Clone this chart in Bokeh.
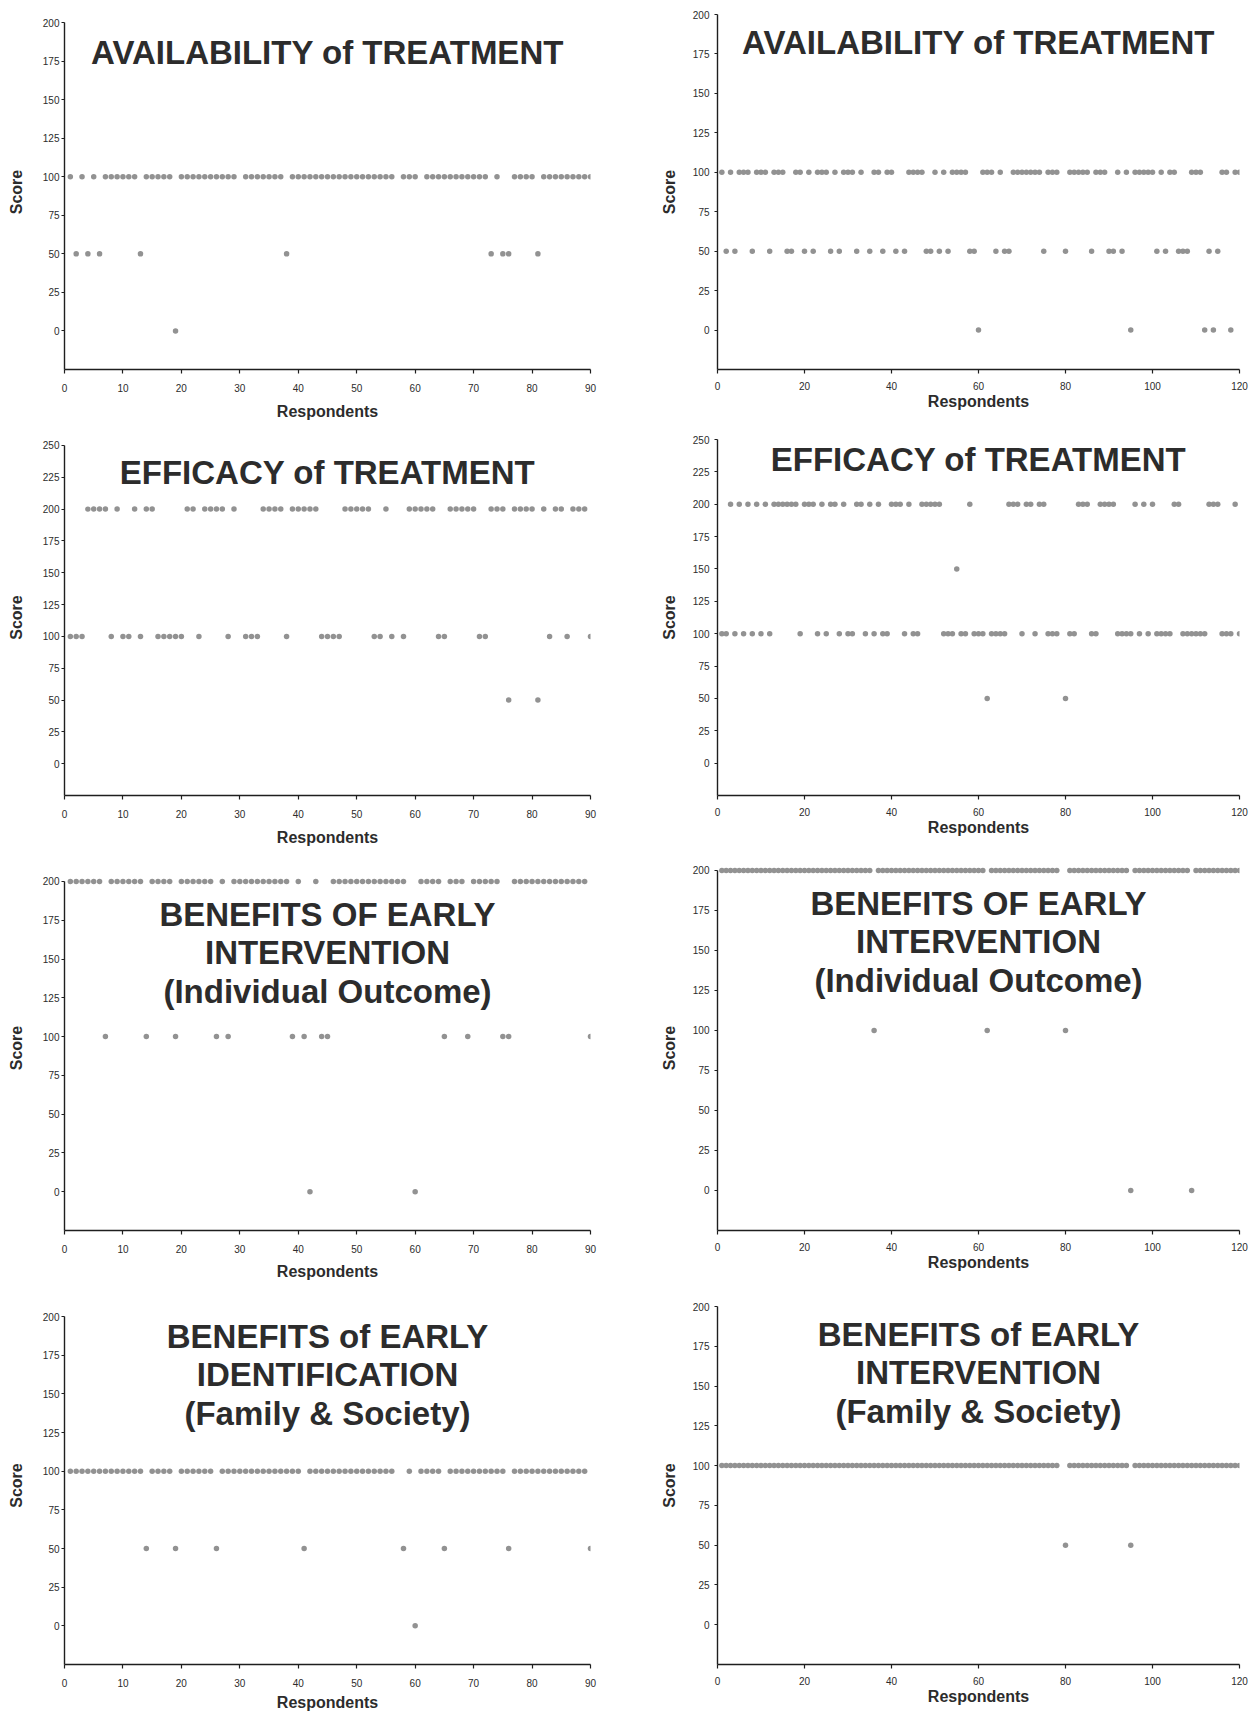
from bokeh.plotting import figure
from bokeh.layouts import column, row
from bokeh.models import FixedTicker, ColumnDataSource, Range1d
from bokeh.embed import file_html
from bokeh.resources import INLINE
from bokeh.core.properties import value

FONT = "Liberation Sans"
N = None

# ---------------- data (score of each respondent, None = no point) ----------------
avail_90 = [100, 50, 100, 50, 100, 50, 100, 100, 100, 100,
            100, 100, 50, 100, 100, 100, 100, 100, 0, 100,
            100, 100, 100, 100, 100, 100, 100, 100, 100, N,
            100, 100, 100, 100, 100, 100, 100, 50, 100, 100,
            100, 100, 100, 100, 100, 100, 100, 100, 100, 100,
            100, 100, 100, 100, 100, 100, N, 100, 100, 100,
            N, 100, 100, 100, 100, 100, 100, 100, 100, 100,
            100, 100, 50, 100, 50, 50, 100, 100, 100, 100,
            50, 100, 100, 100, 100, 100, 100, 100, 100, 100]

avail_120 = [100, 50, 100, 50, 100, 100, 100, 50, 100, 100,
             100, 50, 100, 100, 100, 50, 50, 100, 100, 50,
             100, 50, 100, 100, 100, 50, 100, 50, 100, 100,
             100, 50, 100, N, 50, 100, 100, 50, 100, 100,
             50, N, 50, 100, 100, 100, 100, 50, 50, 100,
             50, 100, 50, 100, 100, 100, 100, 50, 50, 0,
             100, 100, 100, 50, 100, 50, 50, 100, 100, 100,
             100, 100, 100, 100, 50, 100, 100, 100, N, 50,
             100, 100, 100, 100, 100, 50, 100, 100, 100, 50,
             50, 100, 50, 100, 0, 100, 100, 100, 100, 100,
             50, 100, 50, 100, 100, 50, 50, 50, 100, 100,
             100, 0, 50, 0, 50, 100, 100, 0, 100, 100]

eff_90 = [100, 100, 100, 200, 200, 200, 200, 100, 200, 100,
          100, 200, 100, 200, 200, 100, 100, 100, 100, 100,
          200, 200, 100, 200, 200, 200, 200, 100, 200, N,
          100, 100, 100, 200, 200, 200, 200, 100, 200, 200,
          200, 200, 200, 100, 100, 100, 100, 200, 200, 200,
          200, 200, 100, 100, 200, 100, N, 100, 200, 200,
          200, 200, 200, 100, 100, 200, 200, 200, 200, 200,
          100, 100, 200, 200, 200, 50, 200, 200, 200, 200,
          50, 200, 100, 200, 200, 100, 200, 200, 200, 100]

eff_120 = [100, 100, 200, 100, 200, 100, 200, 100, 200, 100,
           200, 100, 200, 200, 200, 200, 200, 200, 100, 200,
           200, 200, 100, 200, 100, 200, 200, 100, 200, 100,
           100, 200, 200, 100, 200, 100, 200, 100, 100, 200,
           200, 200, 100, 200, 100, 100, 200, 200, 200, 200,
           200, 100, 100, 100, 150, 100, 100, 200, 100, 100,
           100, 50, 100, 100, 100, 100, 200, 200, 200, 100,
           200, 200, 100, 200, 200, 100, 100, 100, N, 50,
           100, 100, 200, 200, 200, 100, 100, 200, 200, 200,
           200, 100, 100, 100, 100, 200, 100, 200, 100, 200,
           100, 100, 100, 100, 200, 200, 100, 100, 100, 100,
           100, 100, 200, 200, 200, 100, 100, 100, 200, 100]

indiv_90 = [200, 200, 200, 200, 200, 200, 100, 200, 200, 200,
            200, 200, 200, 100, 200, 200, 200, 200, 100, 200,
            200, 200, 200, 200, 200, 100, 200, 100, 200, 200,
            200, 200, 200, 200, 200, 200, 200, 200, 100, 200,
            100, 0, 200, 100, 100, 200, 200, 200, 200, 200,
            200, 200, 200, 200, 200, 200, 200, 200, N, 0,
            200, 200, 200, 200, 100, 200, 200, 200, 100, 200,
            200, 200, 200, 200, 100, 100, 200, 200, 200, 200,
            200, 200, 200, 200, 200, 200, 200, 200, 200, 100]

indiv_120 = [200, 200, 200, 200, 200, 200, 200, 200, 200, 200,
             200, 200, 200, 200, 200, 200, 200, 200, 200, 200,
             200, 200, 200, 200, 200, 200, 200, 200, 200, 200,
             200, 200, 200, 200, 200, 100, 200, 200, 200, 200,
             200, 200, 200, 200, 200, 200, 200, 200, 200, 200,
             200, 200, 200, 200, 200, 200, 200, 200, 200, 200,
             200, 100, 200, 200, 200, 200, 200, 200, 200, 200,
             200, 200, 200, 200, 200, 200, 200, 200, N, 100,
             200, 200, 200, 200, 200, 200, 200, 200, 200, 200,
             200, 200, 200, 200, 0, 200, 200, 200, 200, 200,
             200, 200, 200, 200, 200, 200, 200, 200, 0, 200,
             200, 200, 200, 200, 200, 200, 200, 200, 200, 200]

family_90 = [100, 100, 100, 100, 100, 100, 100, 100, 100, 100,
             100, 100, 100, 50, 100, 100, 100, 100, 50, 100,
             100, 100, 100, 100, 100, 50, 100, 100, 100, 100,
             100, 100, 100, 100, 100, 100, 100, 100, 100, 100,
             50, 100, 100, 100, 100, 100, 100, 100, 100, 100,
             100, 100, 100, 100, 100, 100, N, 50, 100, 0,
             100, 100, 100, 100, 50, 100, 100, 100, 100, 100,
             100, 100, 100, 100, 100, 50, 100, 100, 100, 100,
             100, 100, 100, 100, 100, 100, 100, 100, 100, 50]

family_120 = [100, 100, 100, 100, 100, 100, 100, 100, 100, 100,
              100, 100, 100, 100, 100, 100, 100, 100, 100, 100,
              100, 100, 100, 100, 100, 100, 100, 100, 100, 100,
              100, 100, 100, 100, 100, 100, 100, 100, 100, 100,
              100, 100, 100, 100, 100, 100, 100, 100, 100, 100,
              100, 100, 100, 100, 100, 100, 100, 100, 100, 100,
              100, 100, 100, 100, 100, 100, 100, 100, 100, 100,
              100, 100, 100, 100, 100, 100, 100, 100, N, 50,
              100, 100, 100, 100, 100, 100, 100, 100, 100, 100,
              100, 100, 100, 100, 50, 100, 100, 100, 100, 100,
              100, 100, 100, 100, 100, 100, 100, 100, 100, 100,
              100, 100, 100, 100, 100, 100, 100, 100, 100, 100]

x_ticks_90 = [0, 10, 20, 30, 40, 50, 60, 70, 80, 90]
x_ticks_120 = [0, 20, 40, 60, 80, 100, 120]
y_ticks_200 = [0, 25, 50, 75, 100, 125, 150, 175, 200]
y_ticks_250 = [0, 25, 50, 75, 100, 125, 150, 175, 200, 225, 250]

title_avail = ["AVAILABILITY of TREATMENT"]
title_eff = ["EFFICACY of TREATMENT"]
title_indiv = ["BENEFITS OF EARLY", "INTERVENTION", "(Individual Outcome)"]
title_fam_id = ["BENEFITS of EARLY", "IDENTIFICATION", "(Family & Society)"]
title_fam_iv = ["BENEFITS of EARLY", "INTERVENTION", "(Family & Society)"]

X_LABEL = "Respondents"
Y_LABEL = "Score"

POINT = "#929292"
INK = "#1e1e1e"
TXT = "#2c2c2c"


def panel(scores, xmax, xticks, ytop, yend, yticks, title, title_y, height,
          left_col, bt, bb, xlab_standoff=None):
    w = 627
    bl, br = (64, 37) if left_col else (90, 15)
    p = figure(width=w, height=height, output_backend="svg",
               toolbar_location=None, x_range=Range1d(0, xmax),
               y_range=Range1d(-25, yend),
               min_border_left=bl, min_border_right=br,
               min_border_top=bt, min_border_bottom=bb)
    p.outline_line_color = None
    p.grid.visible = False
    p.background_fill_color = "white"
    p.border_fill_color = "white"

    xs = [i + 1 for i, s in enumerate(scores) if s is not None]
    ys = [s for s in scores if s is not None]
    src = ColumnDataSource(dict(x=xs, y=ys))
    p.scatter("x", "y", source=src, marker="circle", size=5.5,
              fill_color=POINT, line_color=None)

    tsrc = ColumnDataSource(dict(
        x=[xmax / 2.0] * len(title), y=[title_y] * len(title), text=title,
        off=[38.3 * i for i in range(len(title))]))
    p.text("x", "y", text="text", source=tsrc, y_offset="off",
           text_font=value(FONT), text_font_style="bold",
           text_font_size="33px", text_color=TXT, text_align="center",
           text_baseline="middle")

    for ax in (p.xaxis[0], p.yaxis[0]):
        ax.axis_line_color = INK
        ax.axis_line_width = 1.4
        ax.major_tick_line_color = INK
        ax.major_tick_line_width = 1.2
        ax.major_tick_in = 0
        ax.minor_tick_in = 0
        ax.minor_tick_out = 0
        ax.major_label_text_font = FONT
        ax.major_label_text_font_size = "10px"
        ax.major_label_text_color = TXT
        ax.axis_label_text_font = FONT
        ax.axis_label_text_font_size = "16px"
        ax.axis_label_text_font_style = "bold"
        ax.axis_label_text_color = TXT

    p.xaxis.ticker = FixedTicker(ticks=xticks)
    p.yaxis.ticker = FixedTicker(ticks=yticks)
    p.yaxis.bounds = (-25, ytop)
    p.xaxis.axis_label = X_LABEL
    p.yaxis.axis_label = Y_LABEL
    p.xaxis.major_tick_out = 4
    p.yaxis.major_tick_out = 3
    if left_col:
        p.yaxis.major_label_standoff = 2
        p.yaxis.axis_label_standoff = 15
        p.xaxis.major_label_standoff = 10
        p.xaxis.axis_label_standoff = 8 if xlab_standoff is None else xlab_standoff
    else:
        p.yaxis.major_label_standoff = 5
        p.yaxis.axis_label_standoff = 12
        p.xaxis.major_label_standoff = 8
        p.xaxis.axis_label_standoff = 0
    return p


# frames of the two plots in one row share top and bottom borders
p1 = panel(avail_90, 90, x_ticks_90, 200, 205.2, y_ticks_200, title_avail, 180.6, 428, True, 14, 59)
p2 = panel(avail_120, 120, x_ticks_120, 200, 200, y_ticks_200, title_avail, 182.4, 428, False, 14, 59)
p3 = panel(eff_90, 90, x_ticks_90, 250, 254.7, y_ticks_250, title_eff, 228.8, 427, True, 11, 60)
p4 = panel(eff_120, 120, x_ticks_120, 250, 250, y_ticks_250, title_eff, 234.5, 427, False, 11, 60)
p5 = panel(indiv_90, 90, x_ticks_90, 200, 210.3, y_ticks_200, title_indiv, 178.7, 427, True, 10, 52, 7)
p6 = panel(indiv_120, 120, x_ticks_120, 200, 203.1, y_ticks_200, title_indiv, 179.4, 427, False, 10, 52)
p7 = panel(family_90, 90, x_ticks_90, 200, 206.5, y_ticks_200, title_fam_id, 187.1, 433, True, 24, 51, 4)
p8 = panel(family_120, 120, x_ticks_120, 200, 200, y_ticks_200, title_fam_iv, 182.4, 433, False, 24, 51)

layout = column(row(p1, p2), row(p3, p4), row(p5, p6), row(p7, p8))

with open("out.html", "w") as f:
    f.write(file_html(layout, INLINE))
